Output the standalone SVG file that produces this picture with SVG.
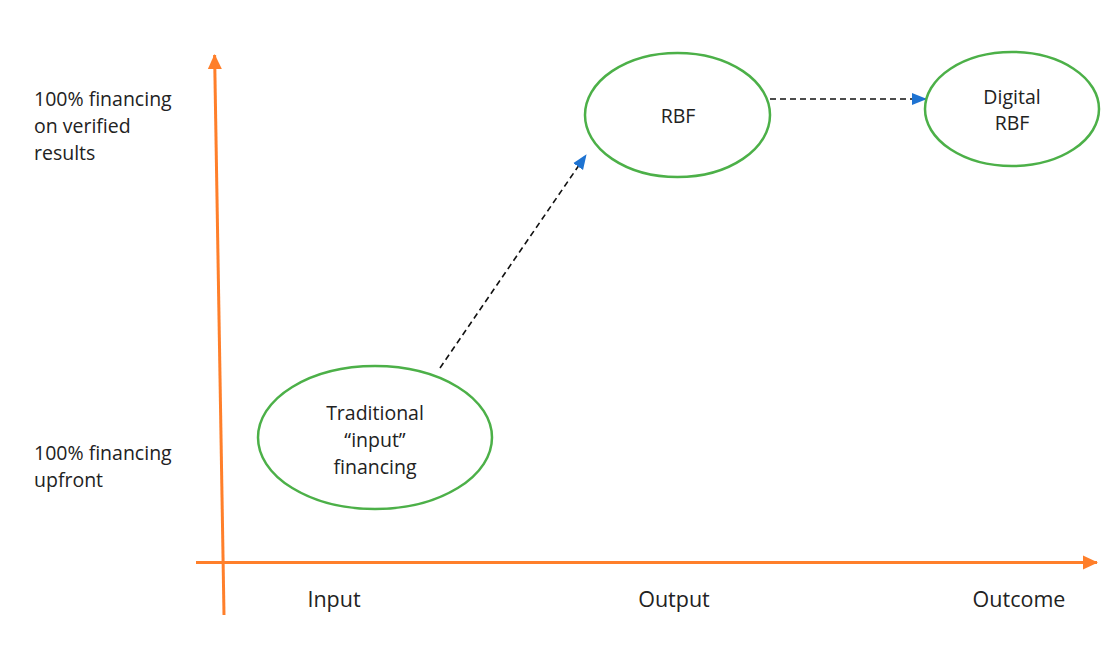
<svg xmlns="http://www.w3.org/2000/svg" width="1120" height="659" viewBox="0 0 1120 659">
<style>
text{font-family:"Open Sans","Liberation Sans",sans-serif;font-size:19.5px;fill:#222}
.c{text-anchor:middle}
.ax{font-size:21.5px}
.node{fill:none;stroke:#4CB048;stroke-width:2.5}
.axis{stroke:#FF7F2A;stroke-width:3;fill:none}
.dash{stroke:#111;stroke-width:1.6;stroke-dasharray:6,4;fill:none}
</style>
<defs>
<marker id="oa" markerUnits="userSpaceOnUse" markerWidth="16" markerHeight="16" refX="14" refY="8" orient="auto" viewBox="0 0 16 16">
<polygon points="0,1 15,8 0,15" fill="#FF7F2A"/>
</marker>
<marker id="ba" markerUnits="userSpaceOnUse" markerWidth="15" markerHeight="13" refX="14" refY="6.5" orient="auto" viewBox="0 0 15 13">
<polygon points="0,0.5 15,6.5 0,12.5" fill="#1E73D2"/>
</marker>
</defs>
<g id="axes">
<line class="axis" x1="224" y1="615" x2="214.6" y2="55" marker-end="url(#oa)"/>
<line class="axis" x1="196" y1="562.5" x2="1097" y2="562.5" marker-end="url(#oa)"/>
</g>
<g id="connectors">
<line class="dash" x1="440" y1="368" x2="586" y2="155" marker-end="url(#ba)"/>
<line class="dash" x1="770" y1="99" x2="926" y2="99" marker-end="url(#ba)"/>
</g>
<g id="node-traditional">
<ellipse class="node" cx="375" cy="437.5" rx="117" ry="71.5"/>
<text class="c" x="375" y="420">Traditional</text>
<text class="c" x="375" y="447">“input”</text>
<text class="c" x="375" y="474">financing</text>
</g>
<g id="node-rbf">
<ellipse class="node" cx="677.5" cy="115" rx="92.5" ry="62"/>
<text class="c" x="678" y="123">RBF</text>
</g>
<g id="node-digital-rbf">
<ellipse class="node" cx="1012" cy="109" rx="87" ry="57"/>
<text class="c" x="1012" y="104">Digital</text>
<text class="c" x="1012" y="130">RBF</text>
</g>
<g id="y-labels">
<text x="34" y="106">100% financing</text>
<text x="34" y="133">on verified</text>
<text x="34" y="160">results</text>
<text x="34" y="460">100% financing</text>
<text x="34" y="487">upfront</text>
</g>
<g id="x-labels">
<text class="c ax" x="334" y="607">Input</text>
<text class="c ax" x="674" y="607">Output</text>
<text class="c ax" x="1019" y="607">Outcome</text>
</g>
</svg>
